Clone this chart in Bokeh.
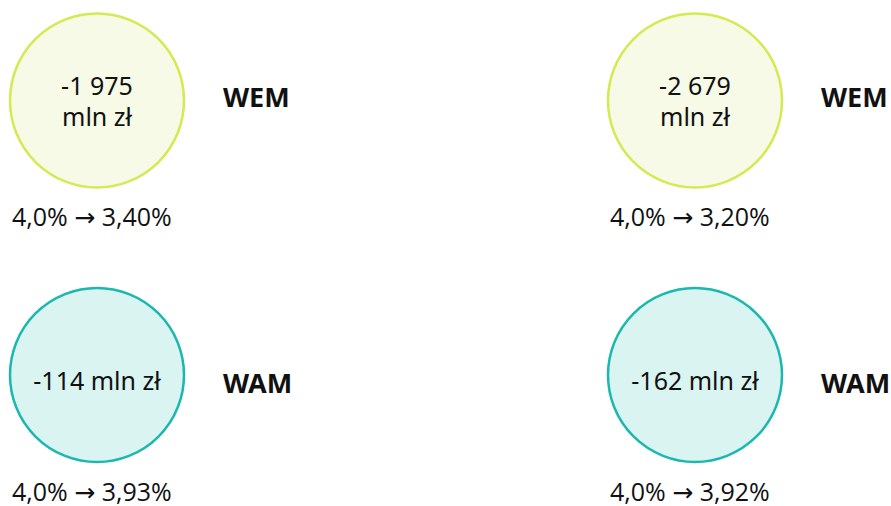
from bokeh.plotting import figure
from bokeh.models import Range1d, ColumnDataSource
from bokeh.core.properties import value
from bokeh.embed import file_html
from bokeh.resources import INLINE

# ---- data ----
scenarios = ["WEM", "WAM", "WEM", "WAM"]
costs_mln = [-1975, -114, -2679, -162]
rate_before = [4.0, 4.0, 4.0, 4.0]
rate_after = [3.40, 3.93, 3.20, 3.92]

# ---- layout (picture pixels) ----
col_x = [96.5, 96.5, 694.5, 694.5]
row_y = [100, 374.5, 100, 374.5]
R = 87

styles = {
    "WEM": dict(fill="#f6fae6", line="#d4ea50"),
    "WAM": dict(fill="#daf4f2", line="#1bb8af"),
}

FONT = value("Noto Sans")
LABEL_FONT = value("'Open Sans', 'DejaVu Sans'")
W, H = 891, 506


def fmt_int(v):
    s = f"{abs(v):,}".replace(",", " ")
    return ("-" if v < 0 else "") + s


def fmt_dec(v, n):
    return f"{v:.{n}f}".replace(".", ",")


p = figure(width=W, height=H, output_backend="svg", toolbar_location=None,
           x_range=Range1d(0, W), y_range=Range1d(H, 0),
           min_border=0, min_border_left=0, min_border_right=0,
           min_border_top=0, min_border_bottom=0)
p.axis.visible = False
p.grid.visible = False
p.outline_line_color = None
p.background_fill_color = "white"
p.border_fill_color = "white"

src = ColumnDataSource(dict(
    x=col_x, y=row_y,
    fill=[styles[s]["fill"] for s in scenarios],
    line=[styles[s]["line"] for s in scenarios],
))
p.circle(x="x", y="y", radius=R, fill_color="fill", line_color="line",
         line_width=2.5, source=src)

# values inside circles
tx, ty, tt = [], [], []
for x, y, c in zip(col_x, row_y, costs_mln):
    if abs(c) >= 1000:
        tx += [x, x]
        ty += [y - 16, y + 15]
        tt += [fmt_int(c), "mln zł"]
    else:
        tx.append(x)
        ty.append(y + 5)
        tt.append(f"{fmt_int(c)} mln zł")
p.text(x=tx, y=ty, text=tt, text_align="center", text_baseline="middle",
       text_font=FONT, text_font_size="25px", text_color="#111111")

# scenario names
p.text(x=[x + 126 for x in col_x],
       y=[y - 4 if s == "WEM" else y + 7 for y, s in zip(row_y, scenarios)],
       text=scenarios, text_align="left", text_baseline="middle",
       text_font=FONT, text_font_size="27px", text_font_style="bold",
       text_color="#111111")

# rate change labels
labels = [f"{fmt_dec(a, 1)}% \u2192 {fmt_dec(b, 2)}%" for a, b in zip(rate_before, rate_after)]
p.text(x=[x - 85 for x in col_x], y=[y + 115.5 for y in row_y], text=labels,
       text_align="left", text_baseline="middle",
       text_font=LABEL_FONT, text_font_size="25px", text_color="#111111")

open("out.html", "w").write(file_html(p, INLINE))
